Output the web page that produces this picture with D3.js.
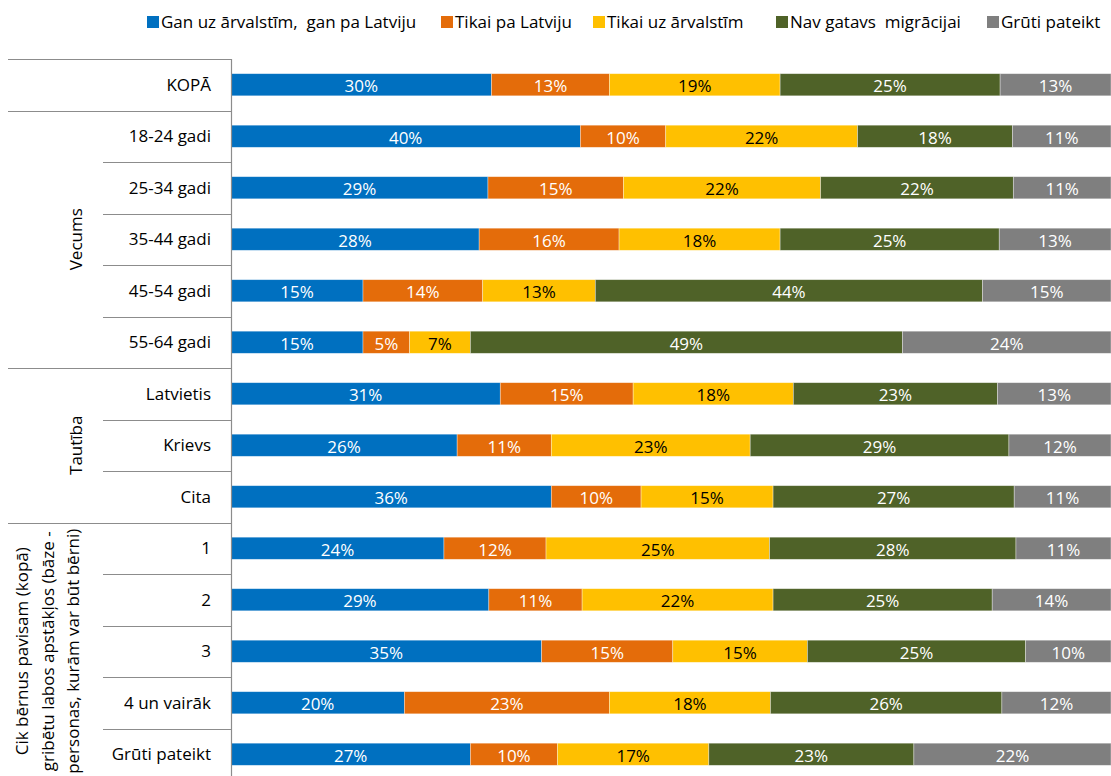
<!DOCTYPE html>
<html><head><meta charset="utf-8">
<script src="https://cdn.jsdelivr.net/npm/d3@7"></script>
<style>
html,body{margin:0;padding:0;background:#fff;}
svg{display:block;font-family:"Open Sans", "DejaVu Sans", sans-serif;}
</style></head>
<body>
<svg id="chart" width="1111" height="776"></svg>
<script>
// ---- DATA ----
const categories = ["KOPĀ","18-24 gadi","25-34 gadi","35-44 gadi","45-54 gadi","55-64 gadi",
  "Latvietis","Krievs","Cita","1","2","3","4 un vairāk","Grūti pateikt"];
const groupNames = [[], ["Vecums"], ["Tautība"],
  ["Cik bērnus pavisam (kopā)","gribētu labos apstākļos (bāze -","personas, kurām var būt bērni)"]];
const groupSizes = [1, 5, 3, 5];
const seriesNames = ["Gan uz ārvalstīm,  gan pa Latviju","Tikai pa Latviju","Tikai uz ārvalstīm","Nav gatavs  migrācijai","Grūti pateikt"];
const ganGan     = [29.6, 39.7, 29.2, 28.2, 15.0, 15.0, 30.6, 25.7, 36.4, 24.2, 29.3, 35.3, 19.7, 27.2];
const tikaiLV    = [13.4,  9.7, 15.4, 15.9, 13.6,  5.3, 15.1, 10.7, 10.2, 11.6, 10.6, 14.9, 23.3,  9.9];
const tikaiArv   = [19.4, 21.8, 22.4, 18.3, 12.8,  6.9, 18.2, 22.6, 15.0, 25.4, 21.7, 15.3, 18.3, 17.2];
const navGatavs  = [25.0, 17.6, 21.9, 24.9, 44.0, 49.1, 23.2, 29.4, 27.4, 28.0, 24.9, 24.8, 26.3, 23.3];
const grutiP     = [12.6, 11.2, 11.1, 12.7, 14.6, 23.7, 12.9, 11.6, 11.0, 10.8, 13.5,  9.7, 12.4, 22.4];
const seriesValues = [ganGan, tikaiLV, tikaiArv, navGatavs, grutiP];

// ---- STYLE / LAYOUT ----
const colors = ["#0070C0","#E46C0A","#FFC000","#4F6228","#7F7F7F"];
const labelColors = ["#fff","#fff","#000","#fff","#fff"];
const legendX = [147, 441, 593, 776, 987];
const plotLeft = 231, plotRight = 1111, plotTop = 59;
const fontSize = 17;
const svg = d3.select("#chart");

const rows = categories.map((c, i) => {
  let x0 = 0;
  const segs = seriesValues.map((arr, s) => {
    const seg = {cat: c, s, v: arr[i], x0, x1: x0 + arr[i]};
    x0 += arr[i];
    return seg;
  });
  return {cat: c, segs};
});

const x = d3.scaleLinear().domain([0, 100]).range([plotLeft, plotRight]);
const step = 51.5;
const y = d3.scaleBand().domain(categories)
  .range([plotTop, plotTop + step * categories.length])
  .paddingInner(0.57).paddingOuter(0.285);

// separator lines of the multi-level axis
const lineColor = "#8C8C8C";
const groupStarts = new Set();
let acc = 0;
groupSizes.forEach(g => { groupStarts.add(acc); acc += g; });
groupStarts.add(acc);
const boundaries = d3.range(categories.length + 1);
svg.append("g").selectAll("line").data(boundaries).join("line")
  .attr("x1", d => groupStarts.has(d) ? 8 : 103)
  .attr("x2", plotLeft)
  .attr("y1", d => Math.round(plotTop + d * y.step()) + 0.5)
  .attr("y2", d => Math.round(plotTop + d * y.step()) + 0.5)
  .attr("stroke", lineColor).attr("stroke-width", 1.2);

// bars
const bars = svg.append("g");
rows.forEach(r => {
  const g = bars.append("g");
  g.selectAll("rect").data(r.segs).join("rect")
    .attr("x", d => x(d.x0))
    .attr("width", d => x(d.x1) - x(d.x0))
    .attr("y", y(r.cat))
    .attr("height", y.bandwidth())
    .attr("fill", d => colors[d.s])
    .attr("stroke", "#fff").attr("stroke-opacity", 0.5).attr("stroke-width", 0.7);
  g.selectAll("text").data(r.segs).join("text")
    .attr("x", d => (x(d.x0) + x(d.x1)) / 2)
    .attr("y", y(r.cat) + y.bandwidth() / 2 + 7.5)
    .attr("text-anchor", "middle")
    .attr("font-size", fontSize)
    .attr("fill", d => labelColors[d.s])
    .text(d => Math.round(d.v) + "%");
});

// axis line
const axisG = svg.append("g").attr("transform", `translate(${plotLeft},0)`);
const yAxis = d3.axisLeft(y).tickSize(0).tickPadding(20);
axisG.call(yAxis);
axisG.select(".domain").attr("d", `M0.5,${plotTop}V${plotTop + step * categories.length}`)
  .attr("stroke", lineColor).attr("stroke-width", 1.2);
axisG.selectAll(".tick text")
  .attr("font-size", fontSize).attr("fill", "#000")
  .attr("font-family", "'Open Sans', 'DejaVu Sans', sans-serif")
  .attr("dy", "0.35em");

// group labels
acc = 0;
groupSizes.forEach((gs, gi) => {
  const top = plotTop + acc * y.step();
  const bottom = plotTop + (acc + gs) * y.step();
  acc += gs;
  const lines = groupNames[gi];
  if (!lines.length) return;
  const cy = (top + bottom) / 2;
  const lh = 25.5;
  const baseX = lines.length === 1 ? 82 : 28;
  lines.forEach((t, li) => {
    svg.append("text")
      .attr("transform", `translate(${baseX + li * lh},${cy}) rotate(-90)`)
      .attr("text-anchor", "middle")
      .attr("font-size", fontSize).attr("fill", "#000")
      .text(t);
  });
});

// legend
const leg = svg.append("g");
seriesNames.forEach((n, i) => {
  leg.append("rect").attr("x", legendX[i]).attr("y", 16).attr("width", 12).attr("height", 12)
    .attr("fill", colors[i]);
  leg.append("text").attr("x", legendX[i] + 14).attr("y", 28)
    .attr("font-size", fontSize).attr("fill", "#000")
    .style("white-space", "pre")
    .text(n);
});
</script>
</body></html>
